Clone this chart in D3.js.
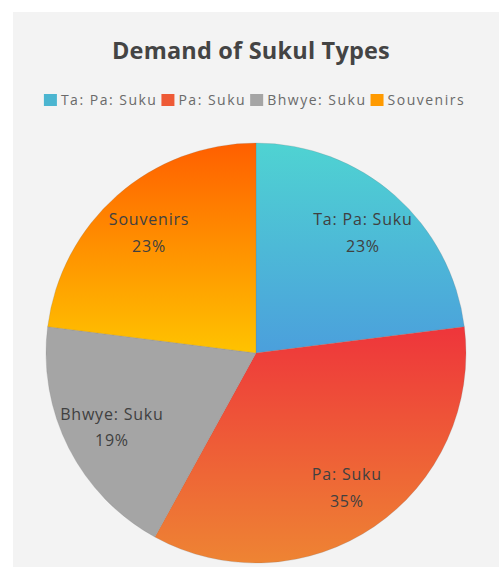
<!DOCTYPE html>
<html>
<head>
<meta charset="utf-8">
<script src="https://cdn.jsdelivr.net/npm/d3@7"></script>
<style>
  html, body { margin: 0; padding: 0; background: #fff; }
  #chart { width: 499px; height: 567px; }
</style>
</head>
<body>
<div id="chart"></div>
<script>
const categories = ['Ta: Pa: Suku', 'Pa: Suku', 'Bhwye: Suku', 'Souvenirs']
const values = [23, 35, 19, 23]
const legendColors = ['#4bb5d0', '#ee5a36', '#a5a5a5', '#ff9a00']
const gradTop = ['#4fd3d2', '#ee353b', '#a5a5a5', '#ff5f00']
const gradBottom = ['#4b9fdc', '#ee8433', '#a5a5a5', '#ffc300']

const width = 499
const height = 567
const cx = 256
const cy = 353
const radius = 210

const svg = d3.select('#chart').append('svg')
  .attr('width', width).attr('height', height)
  .style('font-family', '"Open Sans", Lato, sans-serif')

svg.append('rect')
  .attr('x', 13).attr('y', 12).attr('width', width - 13).attr('height', height - 12)
  .attr('fill', '#f3f3f3')

svg.append('text')
  .attr('x', 251).attr('y', 59)
  .attr('text-anchor', 'middle')
  .attr('font-size', 23.5).attr('font-weight', 'bold')
  .attr('letter-spacing', 0.2)
  .attr('fill', '#444')
  .text('Demand of Sukul Types')

// legend
const legend = svg.append('g').attr('class', 'legend')
let lx = 0
categories.forEach((c, i) => {
  const g = legend.append('g').attr('transform', `translate(${lx},0)`)
  g.append('rect').attr('x', 0).attr('y', -11).attr('width', 13).attr('height', 12)
    .attr('fill', legendColors[i])
  const t = g.append('text').attr('x', 17).attr('y', 0)
    .attr('font-size', 14).attr('letter-spacing', 1.5).attr('fill', '#6a6a6a').text(c)
  lx += 17 + t.node().getComputedTextLength() + 4
})
legend.attr('transform', `translate(${(width - (lx - 4)) / 2 + 5},105)`)

const pie = d3.pie().sort(null).value(d => d)
const arcs = pie(values)
const arc = d3.arc().innerRadius(0).outerRadius(radius)
const labelArc = d3.arc().innerRadius(radius * 0.77).outerRadius(radius * 0.77)

// gradients, top to bottom of each slice (coords relative to pie centre)
const defs = svg.append('defs')
arcs.forEach((a, i) => {
  let y0 = 0, y1 = 0
  d3.range(0, 101).forEach(k => {
    const ang = a.startAngle + (a.endAngle - a.startAngle) * k / 100
    const y = -radius * Math.cos(ang)
    y0 = Math.min(y0, y); y1 = Math.max(y1, y)
  })
  const lg = defs.append('linearGradient')
    .attr('id', 'grad' + i)
    .attr('gradientUnits', 'userSpaceOnUse')
    .attr('x1', 0).attr('y1', y0).attr('x2', 0).attr('y2', y1)
  lg.append('stop').attr('offset', '0%').attr('stop-color', gradTop[i])
  lg.append('stop').attr('offset', '100%').attr('stop-color', gradBottom[i])
})

const g = svg.append('g').attr('transform', `translate(${cx},${cy})`)

g.selectAll('path.slice')
  .data(arcs)
  .enter()
  .append('path')
  .attr('class', 'slice')
  .attr('d', arc)
  .attr('fill', (d, i) => `url(#grad${i})`)
  .attr('stroke', 'rgba(120,120,120,0.35)')
  .attr('stroke-width', 0.6)

const labels = g.selectAll('text.lbl')
  .data(arcs)
  .enter()
  .append('text')
  .attr('class', 'lbl')
  .attr('transform', d => `translate(${labelArc.centroid(d)})`)
  .attr('text-anchor', 'middle')
  .attr('font-size', 16)
  .attr('letter-spacing', 0.8)
  .attr('fill', '#404040')

labels.append('tspan').attr('x', 0).attr('dy', '-0.4em').text((d, i) => categories[i])
labels.append('tspan').attr('x', 0).attr('dy', '1.65em').text(d => d.data + '%')
</script>
</body>
</html>
